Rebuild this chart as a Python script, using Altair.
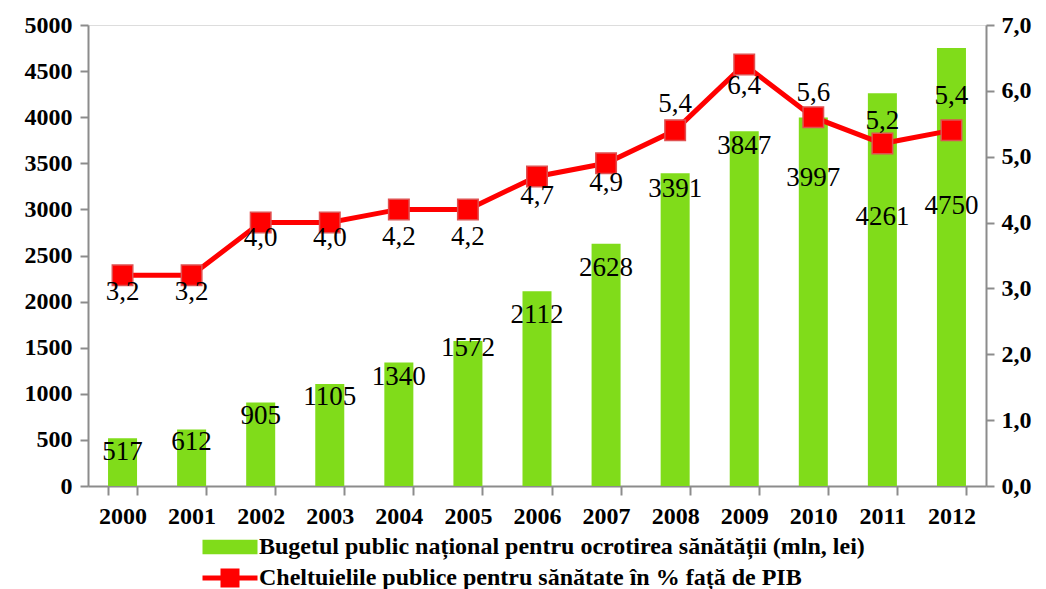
import altair as alt
import pandas as pd

years = ["2000", "2001", "2002", "2003", "2004", "2005", "2006",
         "2007", "2008", "2009", "2010", "2011", "2012"]
budget = [517, 612, 905, 1105, 1340, 1572, 2112, 2628, 3391, 3847, 3997, 4261, 4750]
pct_gdp = [3.2, 3.2, 4.0, 4.0, 4.2, 4.2, 4.7, 4.9, 5.4, 6.4, 5.6, 5.2, 5.4]

# label offsets (pixels, positive = downward) as placed in the original
bar_label_shift = [14, 12, 13, 13, 15, 7, 24, 24, 16, 15, 61, 124, 158]
line_label_shift = [17, 17, 15, 15, 28, 28, 20, 20, -26, 21, -24, -23, -34]

bar_name = "Bugetul public național pentru ocrotirea sănătății (mln, lei)"
line_name = "Cheltuielile publice pentru sănătate în % față de PIB"

W, H = 898, 461
Y1MAX, Y2MAX = 5000, 7

df = pd.DataFrame({
    "year": years,
    "budget": budget,
    "pct": pct_gdp,
    "bshift": bar_label_shift,
    "lshift": line_label_shift,
    "bar_series": [bar_name] * len(years),
    "line_series": [line_name] * len(years),
})

FONT = "Liberation Serif"
GRAY = "#8c8c8c"
GREEN = "#80dc1a"
RED = "#ff0000"
AX_FS = 24
LBL_FS = 27
LEG_FS = 24

x = alt.X("year:N", title=None, sort=years,
          scale=alt.Scale(paddingInner=0.58, paddingOuter=0.29),
          axis=alt.Axis(labelAngle=0, tickBand="extent", domainColor=GRAY,
                        domainWidth=2, tickColor=GRAY, tickWidth=2, tickSize=9,
                        labelFont=FONT, labelFontWeight="bold", labelFontSize=AX_FS,
                        labelColor="#000", labelPadding=9))

y1_scale = alt.Scale(domain=[0, Y1MAX], nice=False)
y2_scale = alt.Scale(domain=[0, Y2MAX], nice=False)

y1_axis = alt.Axis(values=list(range(0, 5001, 500)), format="d", grid=False,
                   domainColor=GRAY, domainWidth=2, tickColor=GRAY, tickWidth=2,
                   tickSize=8, labelFont=FONT, labelFontWeight="bold",
                   labelFontSize=AX_FS, labelColor="#000", labelPadding=8, title=None)
y2_axis = alt.Axis(orient="right", values=list(range(0, 8)), grid=False,
                   domainColor=GRAY, domainWidth=2, tickColor=GRAY, tickWidth=2,
                   tickSize=8, labelFont=FONT, labelFontWeight="bold",
                   labelFontSize=AX_FS, labelColor="#000", labelPadding=7, title=None,
                   labelExpr="replace(format(datum.value, '.1f'), '.', ',')")

base = alt.Chart(df)

bars = base.mark_bar(color=GREEN).encode(
    x=x,
    y=alt.Y("budget:Q", scale=y1_scale, axis=y1_axis),
    color=alt.Color("bar_series:N", scale=alt.Scale(domain=[bar_name], range=[GREEN]),
                    legend=alt.Legend(title=None, orient="none", legendX=130, legendY=510,
                                      symbolType="M-2.75,-0.72H2.75V0.72H-2.75Z",
                                      symbolSize=400, symbolStrokeWidth=0,
                                      labelFont=FONT, labelFontWeight="bold",
                                      labelFontSize=LEG_FS, labelColor="#000",
                                      labelOffset=17, padding=0, labelLimit=900)),
)

bar_text = base.transform_calculate(
    ly=f"datum.budget - datum.bshift * {Y1MAX} / {H}"
).mark_text(font=FONT, fontSize=LBL_FS, color="#000", baseline="middle").encode(
    x=x,
    y=alt.Y("ly:Q", scale=y1_scale, axis=y1_axis),
    text=alt.Text("budget:Q", format="d"),
)

line = base.mark_line(color=RED, strokeWidth=5).encode(
    x=x,
    y=alt.Y("pct:Q", scale=y2_scale, axis=y2_axis),
)

points = base.mark_point(shape="square", size=420, filled=True, fill=RED, opacity=1,
                         stroke="#e05050", strokeWidth=1.5).encode(
    x=x,
    y=alt.Y("pct:Q", scale=y2_scale, axis=y2_axis),
    fill=alt.Fill("line_series:N", scale=alt.Scale(domain=[line_name], range=[RED]),
                  legend=alt.Legend(title=None, orient="none", legendX=130, legendY=541,
                                    symbolType="M-2.75,-0.25H-0.95V-0.95H0.95V-0.25H2.75V0.25H0.95V0.95H-0.95V0.25H-2.75Z",
                                    symbolSize=400, symbolStrokeWidth=0,
                                    labelFont=FONT, labelFontWeight="bold",
                                    labelFontSize=LEG_FS, labelColor="#000",
                                    labelOffset=17, padding=0, labelLimit=900)),
)

line_text = base.transform_calculate(
    ly=f"datum.pct - datum.lshift * {Y2MAX} / {H}",
    lbl="replace(format(datum.pct, '.1f'), '.', ',')",
).mark_text(font=FONT, fontSize=LBL_FS, color="#000", baseline="middle").encode(
    x=x,
    y=alt.Y("ly:Q", scale=y2_scale, axis=y2_axis),
    text="lbl:N",
)

left = alt.layer(bars, bar_text)
right = alt.layer(line, points, line_text)

chart = alt.layer(left, right).resolve_scale(
    y="independent", color="independent", fill="independent"
).properties(
    width=W, height=H,
    autosize=alt.AutoSizeParams(type="none"),
    padding={"left": 80, "top": 17, "right": 50, "bottom": 103},
).configure_view(stroke=None).configure(
    background="white", font=FONT
).configure_text(font=FONT).configure_legend(labelFont=FONT).configure_axis(labelFont=FONT)

chart.save("out.html", embed_options={"renderer": "svg", "actions": False})
